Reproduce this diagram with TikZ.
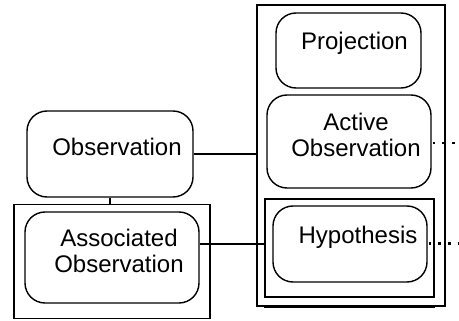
\documentclass[tikz,border=0pt]{standalone}
\usepackage{fontspec}
\setmainfont{Liberation Sans}
\begin{document}
\begin{tikzpicture}[x=1pt,y=-1pt,
  lw/.style={line width=1.4pt},
  rbox/.style={lw,draw,rounded corners=20pt,inner sep=0pt},
  frame/.style={lw,draw,inner sep=0pt},
  txt/.style={font=\fontsize{24}{26}\selectfont,align=center,inner sep=0pt},
  dotline/.style={line width=2.6pt,dash pattern=on 2.6pt off 7pt}]
\useasboundingbox (0,0) rectangle (459,321);
% frames
\node[frame,minimum width=188pt,minimum height=301pt] (big) at (351,155.5) {};
\node[frame,minimum width=196pt,minimum height=114pt] (af) at (112,261.5) {};
\node[frame,minimum width=169pt,minimum height=98pt] (hf) at (349.5,248) {};
\draw[lw] ([yshift=-9pt]af.south west) -- ([yshift=-9pt]af.south east);
\draw[lw] ([yshift=-9.5pt]hf.south west) -- ([yshift=-9.5pt]hf.south east);
% rounded boxes
\node[rbox,minimum width=166pt,minimum height=86pt,
  label={[txt,xshift=7pt,yshift=7pt]center:Observation}] (obs) at (110,154) {};
\node[rbox,minimum width=174pt,minimum height=91pt,
  label={[txt,xshift=7pt,yshift=7pt]center:Associated\\Observation}] (assoc) at (112,257.5) {};
\node[rbox,minimum width=145pt,minimum height=75pt,
  label={[txt,xshift=6pt,yshift=7pt]center:Projection}] (proj) at (348.5,50.5) {};
\node[rbox,minimum width=164pt,minimum height=93pt,
  label={[txt,xshift=7pt,yshift=7pt]center:Active\\Observation}] (act) at (349,141.5) {};
\node[rbox,minimum width=154pt,minimum height=76pt,
  label={[txt,xshift=8pt,yshift=7pt]center:Hypothesis}] (hyp) at (350,244) {};
% free ends
\coordinate (e1) at (459,143);
\coordinate (e2) at (459,243.5);
% connectors
\draw[lw] (obs.south) -- (obs.south |- af.north);
\draw[lw] (obs.east) -- (obs.east -| big.west);
\draw[lw] (hyp.west -| assoc.east) -- (hyp.west -| hf.west);
\draw[dotline] ([xshift=1pt]act.east |- e1) -- (e1);
\draw[dotline] ([xshift=1pt]hyp.east |- e2) -- (e2);
\end{tikzpicture}
\end{document}
